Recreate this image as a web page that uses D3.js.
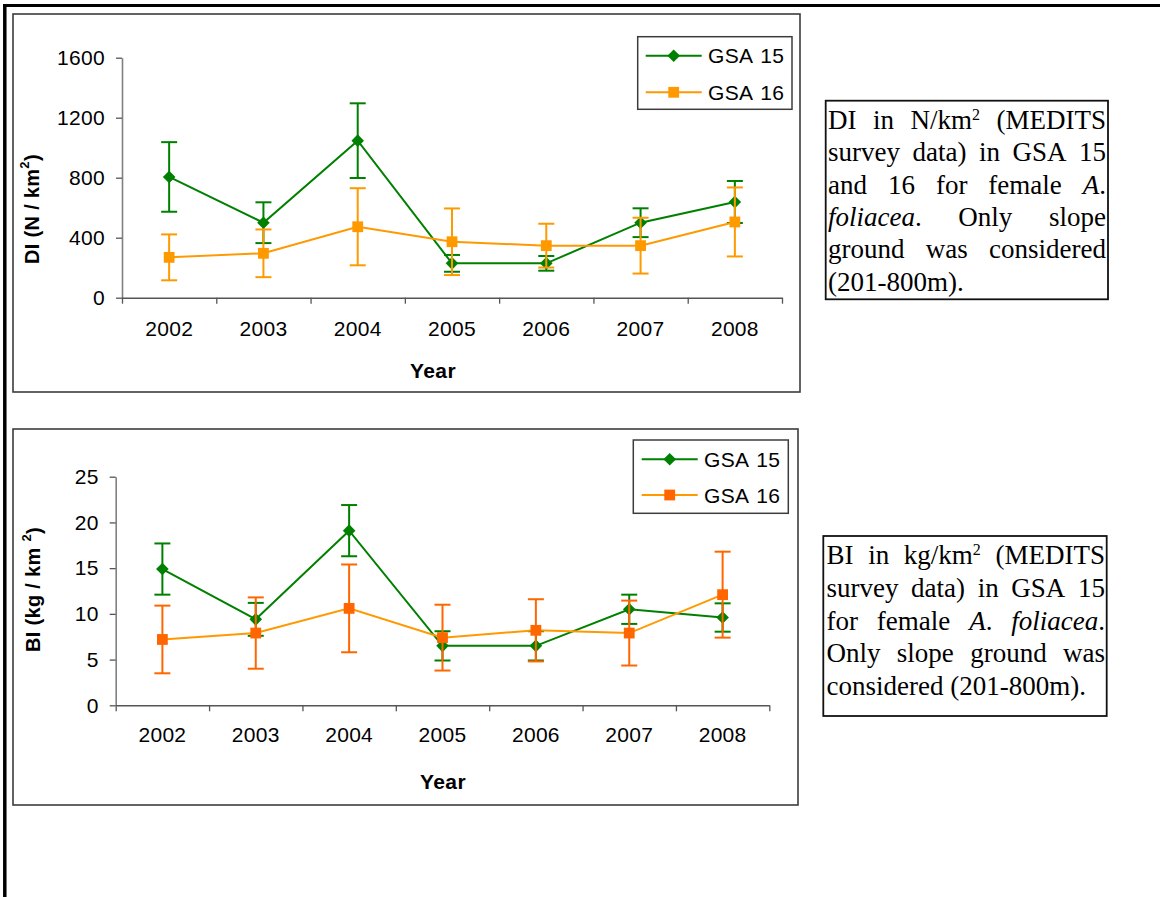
<!DOCTYPE html>
<html>
<head>
<meta charset="utf-8">
<script src="https://cdn.jsdelivr.net/npm/d3@7"></script>
<style>
  html, body { margin: 0; padding: 0; background: #fff; }
  svg { display: block; }
</style>
</head>
<body>
<svg id="page" width="1160" height="897"></svg>
<script>
// ---- data ----
const years = ["2002", "2003", "2004", "2005", "2006", "2007", "2008"];
const seriesNames = ["GSA 15", "GSA 16"];

// Density index (N/km²)
const diTicks = [0, 400, 800, 1200, 1600];
const diGsa15 = [805, 500, 1047, 229, 229, 500, 638];
const diGsa15Err = [232, 136, 249, 56, 49, 96, 140];
const diGsa16 = [269, 296, 473, 373, 347, 347, 505];
const diGsa16Err = [153, 159, 257, 222, 146, 186, 230];

// Biomass index (kg/km²)
const biTicks = [0, 5, 10, 15, 20, 25];
const biGsa15 = [14.9, 9.4, 19.1, 6.5, 6.5, 10.5, 9.6];
const biGsa15Err = [2.8, 1.8, 2.8, 1.6, 1.6, 1.6, 1.55];
const biGsa16 = [7.2, 7.9, 10.6, 7.4, 8.2, 7.9, 12.1];
const biGsa16Err = [3.7, 3.9, 4.8, 3.6, 3.4, 3.55, 4.7];

const GREEN = "#008000";
const ORANGE = "#FF9900";
const RED_ORANGE = "#FF6600";
const SANS = "'Liberation Sans', Arial, sans-serif";
const SERIF = "'Liberation Serif', 'Times New Roman', serif";
const LABEL_SIZE = 21;

const svg = d3.select("#page");

// page borders
svg.append("line").attr("x1", 3).attr("x2", 1160).attr("y1", 5.5).attr("y2", 5.5)
  .attr("stroke", "#000").attr("stroke-width", 3);
svg.append("line").attr("x1", 4.8).attr("x2", 4.8).attr("y1", 4).attr("y2", 897)
  .attr("stroke", "#000").attr("stroke-width", 3.5);

function diamondPath(r) {
  return `M0,${-r}L${r},0L0,${r}L${-r},0Z`;
}
function squarePath(h) {
  return `M${-h},${-h}H${h}V${h}H${-h}Z`;
}

function drawChart(cfg) {
  const g = svg.append("g");
  const f = cfg.frame;
  g.append("rect").attr("x", f.x).attr("y", f.y).attr("width", f.w).attr("height", f.h)
    .attr("fill", "#fff").attr("stroke", "#3c3c3c").attr("stroke-width", 1.6);

  const p = cfg.plot;
  const xb = d3.scaleBand().domain(years).range([p.left, p.right]).padding(0);
  const xc = d => xb(d) + xb.bandwidth() / 2;
  const y = d3.scaleLinear().domain(cfg.yDomain).range([p.bottom, p.top]);

  // y axis
  const ya = g.append("g").attr("transform", `translate(${p.left},0)`)
    .call(d3.axisLeft(y).tickValues(cfg.yTicks).tickFormat(d3.format("d"))
      .tickSize(6).tickPadding(11).tickSizeOuter(0));
  ya.select(".domain").attr("stroke", "#808080").attr("stroke-width", 1.6);
  ya.selectAll(".tick line").attr("stroke", "#555").attr("stroke-width", 1.3);
  ya.selectAll(".tick text").attr("font-family", SANS).attr("font-size", LABEL_SIZE)
    .attr("letter-spacing", 0.3).attr("fill", "#000");

  // x axis: boundary ticks
  const xEdge = d3.scaleLinear().domain([0, years.length]).range([p.left, p.right]);
  const xe = g.append("g").attr("transform", `translate(0,${p.bottom})`)
    .call(d3.axisBottom(xEdge).tickValues(d3.range(years.length + 1)).tickFormat("")
      .tickSize(6).tickSizeOuter(0));
  xe.select(".domain").attr("stroke", "#555").attr("stroke-width", 1.6);
  xe.selectAll(".tick line").attr("stroke", "#555").attr("stroke-width", 1.3);

  // x axis: category labels
  const xl = g.append("g").attr("transform", `translate(0,${p.bottom})`)
    .call(d3.axisBottom(xb).tickSize(0).tickPadding(cfg.xLabelPad));
  xl.select(".domain").remove();
  xl.selectAll(".tick text").attr("font-family", SANS).attr("font-size", LABEL_SIZE)
    .attr("letter-spacing", 0.3).attr("fill", "#000");

  // axis titles
  g.append("text").attr("x", cfg.xTitle.x).attr("y", cfg.xTitle.y)
    .attr("text-anchor", "middle").attr("font-family", SANS).attr("font-weight", "bold")
    .attr("font-size", 21).attr("letter-spacing", 0.4).text("Year");

  const yt = g.append("text")
    .attr("transform", `translate(${cfg.yTitle.x},${cfg.yTitle.y}) rotate(-90)`)
    .attr("text-anchor", "middle").attr("dy", "0.35em")
    .attr("font-family", SANS).attr("font-weight", "bold").attr("font-size", 20)
    .attr("letter-spacing", 0.3);
  yt.append("tspan").text(cfg.yTitle.text);
  yt.append("tspan").attr("font-size", 13).attr("dy", "-0.75em").text("2");
  yt.append("tspan").attr("dy", "0.5em").text(")");

  const line = d3.line().x((d, i) => xc(years[i])).y(d => y(d));

  cfg.series.forEach(s => {
    const sg = g.append("g");
    // error bars
    const eb = sg.selectAll(".err").data(s.values).join("g").attr("class", "err");
    eb.append("line")
      .attr("x1", (d, i) => xc(years[i])).attr("x2", (d, i) => xc(years[i]))
      .attr("y1", (d, i) => y(d + s.err[i])).attr("y2", (d, i) => y(d - s.err[i]))
      .attr("stroke", s.markColor).attr("stroke-width", 2);
    [1, -1].forEach(sign => {
      eb.append("line")
        .attr("x1", (d, i) => xc(years[i]) - 8).attr("x2", (d, i) => xc(years[i]) + 8)
        .attr("y1", (d, i) => y(d + sign * s.err[i])).attr("y2", (d, i) => y(d + sign * s.err[i]))
        .attr("stroke", s.markColor).attr("stroke-width", 2);
    });
    // line
    sg.append("path").datum(s.values).attr("d", line).attr("fill", "none")
      .attr("stroke", s.lineColor).attr("stroke-width", 2);
    // markers
    sg.selectAll(".mk").data(s.values).join("path").attr("class", "mk")
      .attr("transform", (d, i) => `translate(${xc(years[i])},${y(d)})`)
      .attr("d", s.shape === "diamond" ? diamondPath(6.3) : squarePath(5.4))
      .attr("fill", s.markColor);
  });

  // legend
  const L = cfg.legend;
  g.append("rect").attr("x", L.x).attr("y", L.y).attr("width", L.w).attr("height", L.h)
    .attr("fill", "#fff").attr("stroke", "#3c3c3c").attr("stroke-width", 1.5);
  cfg.series.forEach((s, k) => {
    const ly = L.rows[k];
    g.append("line").attr("x1", L.lineX1).attr("x2", L.lineX2).attr("y1", ly).attr("y2", ly)
      .attr("stroke", s.lineColor).attr("stroke-width", 2);
    g.append("path").attr("transform", `translate(${(L.lineX1 + L.lineX2) / 2},${ly})`)
      .attr("d", s.shape === "diamond" ? diamondPath(6.3) : squarePath(5.4))
      .attr("fill", s.markColor);
    g.append("text").attr("x", L.textX).attr("y", ly).attr("dy", "0.36em")
      .attr("font-family", SANS).attr("font-size", LABEL_SIZE).attr("letter-spacing", 0.3)
      .attr("word-spacing", 2).text(s.name);
  });
}

// Justified caption box; each line is a list of words, each word a list of [text, style] runs
function drawCaption(box, lines) {
  const g = svg.append("g");
  g.append("rect").attr("x", box.x).attr("y", box.y).attr("width", box.w).attr("height", box.h)
    .attr("fill", "#fff").attr("stroke", "#111").attr("stroke-width", 1.8);

  function addRuns(t, runs) {
    runs.forEach(([txt, style]) => {
      const ts = t.append("tspan").text(txt);
      if (style === "i") ts.attr("font-style", "italic");
      if (style === "sup") ts.attr("font-size", 16).attr("baseline-shift", "58%");
    });
  }

  lines.forEach((words, li) => {
    const by = box.baseline + li * box.lineGap;
    const last = li === lines.length - 1;
    const nodes = words.map(runs => {
      const t = g.append("text").attr("y", by).attr("font-family", SERIF)
        .attr("font-size", box.fontSize).attr("fill", "#000");
      addRuns(t, runs);
      return t;
    });
    const widths = nodes.map(t => t.node().getComputedTextLength());
    const total = d3.sum(widths);
    const avail = box.textRight - box.textLeft;
    const gap = last ? box.fontSize * 0.25 : (avail - total) / (words.length - 1);
    let x = box.textLeft;
    nodes.forEach((t, k) => {
      t.attr("x", x);
      x += widths[k] + gap;
    });
  });
}

drawChart({
  frame: { x: 13, y: 14, w: 787, h: 378 },
  plot: { left: 122, right: 782, top: 57.7, bottom: 297.7 },
  yDomain: [0, 1600], yTicks: diTicks, xLabelPad: 23,
  xTitle: { x: 433, y: 378 },
  yTitle: { x: 32, y: 209, text: "DI (N / km" },
  series: [
    { name: seriesNames[0], values: diGsa15, err: diGsa15Err, lineColor: GREEN, markColor: GREEN, shape: "diamond" },
    { name: seriesNames[1], values: diGsa16, err: diGsa16Err, lineColor: ORANGE, markColor: ORANGE, shape: "square" }
  ],
  legend: { x: 637.7, y: 36.7, w: 154.3, h: 72.6, rows: [55.7, 92.3], lineX1: 645.7, lineX2: 701.7, textX: 708 }
});

drawChart({
  frame: { x: 13, y: 429, w: 785, h: 376 },
  plot: { left: 115.7, right: 769.3, top: 476.7, bottom: 705.3 },
  yDomain: [0, 25], yTicks: biTicks, xLabelPad: 22,
  xTitle: { x: 443, y: 789 },
  yTitle: { x: 33.3, y: 589.5, text: "BI (kg / km " },
  series: [
    { name: seriesNames[0], values: biGsa15, err: biGsa15Err, lineColor: GREEN, markColor: GREEN, shape: "diamond" },
    { name: seriesNames[1], values: biGsa16, err: biGsa16Err, lineColor: ORANGE, markColor: RED_ORANGE, shape: "square" }
  ],
  legend: { x: 633.3, y: 440, w: 155, h: 73.3, rows: [459.3, 495], lineX1: 641.7, lineX2: 697.7, textX: 704 }
});

drawCaption(
  { x: 825.7, y: 100.7, w: 282.3, h: 198.6, textLeft: 828, textRight: 1106, baseline: 129, lineGap: 32.3, fontSize: 27 },
  [
    [[["DI"]], [["in"]], [["N/km"], ["2", "sup"]], [["(MEDITS"]]],
    [[["survey"]], [["data)"]], [["in"]], [["GSA"]], [["15"]]],
    [[["and"]], [["16"]], [["for"]], [["female"]], [["A", "i"], ["."]]],
    [[["foliacea", "i"], ["."]], [["Only"]], [["slope"]]],
    [[["ground"]], [["was"]], [["considered"]]],
    [[["(201-800m)."]]]
  ]
);

drawCaption(
  { x: 823.3, y: 536, w: 283.4, h: 180, textLeft: 826.5, textRight: 1105, baseline: 564.3, lineGap: 32.7, fontSize: 27 },
  [
    [[["BI"]], [["in"]], [["kg/km"], ["2", "sup"]], [["(MEDITS"]]],
    [[["survey"]], [["data)"]], [["in"]], [["GSA"]], [["15"]]],
    [[["for"]], [["female"]], [["A", "i"], ["."]], [["foliacea", "i"], ["."]]],
    [[["Only"]], [["slope"]], [["ground"]], [["was"]]],
    [[["considered"]], [["(201-800m)."]]]
  ]
);
</script>
</body>
</html>
